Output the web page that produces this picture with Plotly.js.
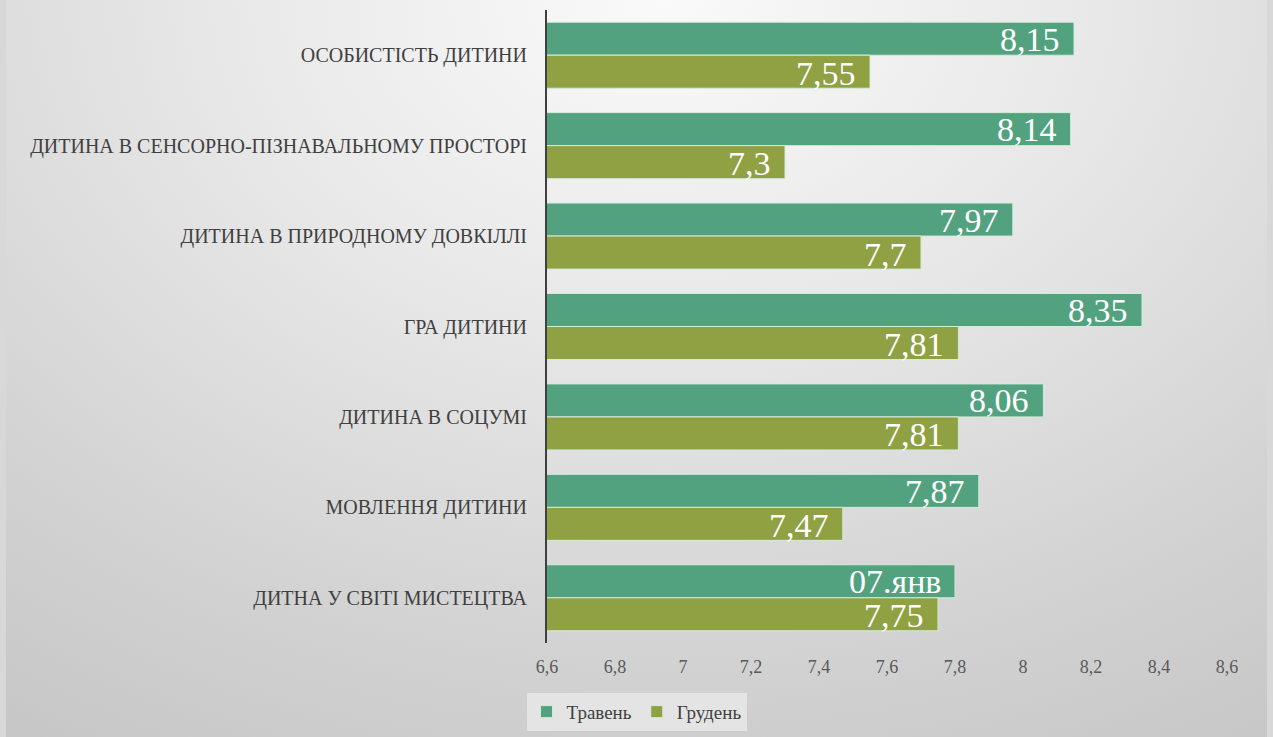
<!DOCTYPE html>
<html>
<head>
<meta charset="utf-8">
<script src="https://cdn.plot.ly/plotly-3.0.1.min.js"></script>
<style>
html,body{margin:0;padding:0;}
body{width:1273px;height:737px;overflow:hidden;background:#d8d8d8;position:relative;}
#wrap{position:absolute;left:6px;top:0;width:1261px;height:737px;
 background:radial-gradient(ellipse 95% 120% at 52% 0%, #fafafa 0%, #e9e9e9 35%, #d2d2d2 75%, #c6c6c6 100%);}
#chart{position:absolute;left:0;top:0;width:1273px;height:737px;}
</style>
</head>
<body>
<div id="wrap"></div>
<div id="chart"></div>
<script>
const categories = [
  "ОСОБИСТІСТЬ ДИТИНИ",
  "ДИТИНА В СЕНСОРНО-ПІЗНАВАЛЬНОМУ ПРОСТОРІ",
  "ДИТИНА В ПРИРОДНОМУ ДОВКІЛЛІ",
  "ГРА ДИТИНИ",
  "ДИТИНА В СОЦУМІ",
  "МОВЛЕННЯ ДИТИНИ",
  "ДИТНА У СВІТІ МИСТЕЦТВА"
];
const travenValues = [8.15, 8.14, 7.97, 8.35, 8.06, 7.87, 7.80];
const travenLabels = ["8,15", "8,14", "7,97", "8,35", "8,06", "7,87", "07.янв"];
const grudenValues = [7.55, 7.30, 7.70, 7.81, 7.81, 7.47, 7.75];
const grudenLabels = ["7,55", "7,3", "7,7", "7,81", "7,81", "7,47", "7,75"];
const xTickVals = [6.6, 6.8, 7.0, 7.2, 7.4, 7.6, 7.8, 8.0, 8.2, 8.4, 8.6];
const xTickText = ["6,6", "6,8", "7", "7,2", "7,4", "7,6", "7,8", "8", "8,2", "8,4", "8,6"];

const serif = "Liberation Serif";
const cTraven = "#52a27f";
const cGruden = "#8fa143";

const traces = [
  {type: "bar", orientation: "h", name: "Травень", y: categories, x: travenValues,
   marker: {color: cTraven, line: {color: "#d2ecd6", width: 1}}, hoverinfo: "none"},
  {type: "bar", orientation: "h", name: "Грудень", y: categories, x: grudenValues,
   marker: {color: cGruden, line: {color: "#d2ecd6", width: 1}}, hoverinfo: "none"}
];

const annotations = [];
categories.forEach((c, i) => {
  annotations.push({x: travenValues[i], y: c, xref: "x", yref: "y", text: travenLabels[i],
    showarrow: false, xanchor: "right", yanchor: "middle", xshift: -12, yshift: 16,
    font: {family: serif, size: 34, color: "#ffffff"}});
  annotations.push({x: grudenValues[i], y: c, xref: "x", yref: "y", text: grudenLabels[i],
    showarrow: false, xanchor: "right", yanchor: "middle", xshift: -12, yshift: -18,
    font: {family: serif, size: 34, color: "#ffffff"}});
});

const layout = {
  width: 1273, height: 737,
  margin: {l: 547, r: 46, t: 10, b: 94},
  paper_bgcolor: "rgba(0,0,0,0)",
  plot_bgcolor: "rgba(0,0,0,0)",
  barmode: "group",
  bargap: 0.27,
  bargroupgap: 0,
  font: {family: serif, color: "#404040"},
  xaxis: {range: [6.6, 8.6], tickvals: xTickVals, ticktext: xTickText,
    showgrid: false, zeroline: false, showline: false, ticks: "",
    ticklabelstandoff: 11,
    tickfont: {family: serif, size: 18, color: "#595959"}, fixedrange: true},
  yaxis: {type: "category", autorange: "reversed", showgrid: false, zeroline: false,
    showline: true, linecolor: "#404040", linewidth: 2, ticks: "",
    ticklabelstandoff: 14,
    tickfont: {family: serif, size: 20, color: "#404040"}, fixedrange: true},
  showlegend: true,
  legend: {orientation: "h", xref: "container", yref: "container", x: 0.5, xanchor: "center",
    y: 0.06, yanchor: "top", bgcolor: "rgba(232,232,232,0.85)",
    font: {family: serif, size: 19, color: "#404040"}, itemwidth: 30,
    traceorder: "normal"},
  annotations: annotations
};

Plotly.newPlot("chart", traces, layout, {displayModeBar: false, staticPlot: true});
</script>
</body>
</html>
